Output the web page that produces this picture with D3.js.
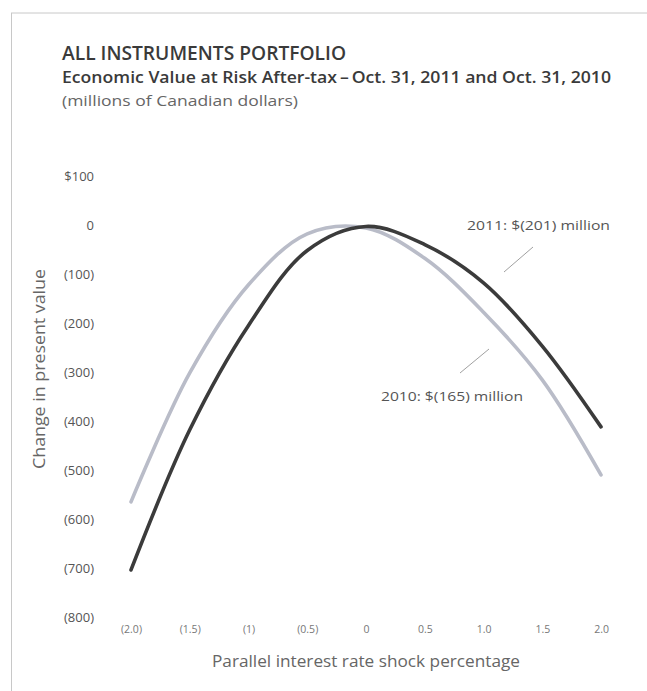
<!DOCTYPE html>
<html>
<head>
<meta charset="utf-8">
<script src="https://cdn.jsdelivr.net/npm/d3@7"></script>
<style>
  html, body { margin: 0; padding: 0; background: #fff; }
  svg { display: block; font-family: "Open Sans", "Noto Sans", sans-serif; }
</style>
</head>
<body>
<svg id="chart" width="647" height="691"></svg>
<script>
// ---- Data ----
const shocks = [-2.0, -1.5, -1.0, -0.5, 0, 0.5, 1.0, 1.5, 2.0];
const xTickLabels = ["(2.0)", "(1.5)", "(1)", "(0.5)", "0", "0.5", "1.0", "1.5", "2.0"];
const values2011 = [-704, -418, -205, -52, -3, -40, -118, -247, -412];
const values2010 = [-565, -302, -122, -18, -6, -68, -178, -316, -510];
const yTicks = [100, 0, -100, -200, -300, -400, -500, -600, -700, -800];
const yTickLabels = ["$100", "0", "(100)", "(200)", "(300)", "(400)", "(500)", "(600)", "(700)", "(800)"];
const titleText = "ALL INSTRUMENTS PORTFOLIO";
const subtitleText = "Economic Value at Risk After-tax\u2009\u2013\u2009Oct. 31, 2011 and Oct. 31, 2010";
const unitText = "(millions of Canadian dollars)";
const yTitle = "Change in present value";
const xTitle = "Parallel interest rate shock percentage";
const label2011 = "2011: $(201) million";
const label2010 = "2010: $(165) million";

// ---- Layout ----
const svg = d3.select("#chart");
const x = d3.scaleLinear().domain([-2, 2]).range([131, 601]);
const y = d3.scaleLinear().domain([-800, 100]).range([617, 176]);

// frame
svg.append("line").attr("x1", 11).attr("x2", 647).attr("y1", 13).attr("y2", 13)
  .attr("stroke", "#c8c8c8").attr("stroke-width", 1);
svg.append("line").attr("x1", 11.5).attr("x2", 11.5).attr("y1", 13).attr("y2", 691)
  .attr("stroke", "#c8c8c8").attr("stroke-width", 1);

function txt(sel, opts) {
  const t = sel.append("text").text(opts.text)
    .attr("font-size", opts.size).attr("fill", opts.fill || "#555");
  if (opts.weight) t.attr("font-weight", opts.weight);
  if (opts.anchor) t.attr("text-anchor", opts.anchor);
  if (opts.len) t.attr("textLength", opts.len).attr("lengthAdjust", "spacingAndGlyphs");
  return t;
}

// titles
txt(svg, {text: titleText, size: 19, weight: 600, fill: "#3a3a3a", len: 284})
  .attr("x", 62).attr("y", 60);
txt(svg, {text: subtitleText, size: 15.5, weight: 600, fill: "#3a3a3a", len: 549})
  .attr("x", 62).attr("y", 83);
txt(svg, {text: unitText, size: 14, fill: "#666", len: 236})
  .attr("x", 62).attr("y", 106);

// y axis ticks (labels only)
const yAxis = d3.axisLeft(y).tickValues(yTicks)
  .tickFormat((d, i) => yTickLabels[i]).tickSize(0).tickPadding(0);
const gy = svg.append("g").attr("transform", "translate(94,0)").call(yAxis);
gy.select(".domain").remove();
gy.selectAll("text").attr("font-size", 13).attr("fill", "#555")
  .attr("font-family", "\"Open Sans\", sans-serif");

// x axis ticks (labels only)
const xAxis = d3.axisBottom(x).tickValues(shocks)
  .tickFormat((d, i) => xTickLabels[i]).tickSize(0).tickPadding(0);
const gx = svg.append("g").attr("transform", "translate(0,626)").call(xAxis);
gx.select(".domain").remove();
gx.selectAll("text").attr("font-size", 10.5).attr("fill", "#777")
  .attr("font-family", "\"Open Sans\", sans-serif");

// axis titles
txt(svg, {text: yTitle, size: 16.5, fill: "#666", anchor: "middle", len: 200})
  .attr("transform", "translate(45,369) rotate(-90)");
txt(svg, {text: xTitle, size: 16.5, fill: "#666", anchor: "middle", len: 308})
  .attr("x", 366).attr("y", 667);

// lines
const line = d3.line().x((d, i) => x(shocks[i])).y(d => y(d)).curve(d3.curveCatmullRom.alpha(0.5));
svg.append("path").datum(values2010).attr("d", line)
  .attr("fill", "none").attr("stroke", "#b9bcc8").attr("stroke-width", 3.6)
  .attr("stroke-linecap", "round").attr("stroke-linejoin", "round");
svg.append("path").datum(values2011).attr("d", line)
  .attr("fill", "none").attr("stroke", "#3b3b3b").attr("stroke-width", 3.6)
  .attr("stroke-linecap", "round").attr("stroke-linejoin", "round");

// annotations
txt(svg, {text: label2011, size: 13.5, fill: "#555", len: 143})
  .attr("x", 467).attr("y", 230);
svg.append("line").attr("x1", 533).attr("y1", 247).attr("x2", 504).attr("y2", 272)
  .attr("stroke", "#888").attr("stroke-width", 0.8);
txt(svg, {text: label2010, size: 13.5, fill: "#555", len: 142})
  .attr("x", 381).attr("y", 401);
svg.append("line").attr("x1", 489).attr("y1", 349).attr("x2", 460).attr("y2", 373)
  .attr("stroke", "#888").attr("stroke-width", 0.8);
</script>
</body>
</html>
